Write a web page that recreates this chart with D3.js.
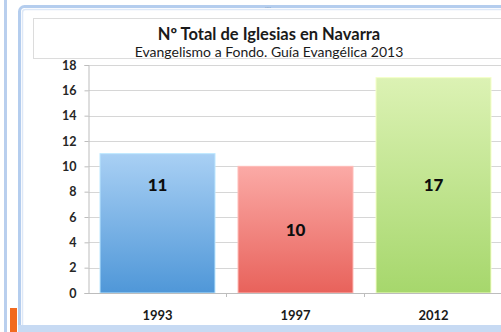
<!DOCTYPE html>
<html>
<head>
<meta charset="utf-8">
<script src="https://cdn.jsdelivr.net/npm/d3@7"></script>
<style>
  html, body { margin: 0; padding: 0; background: #fff; }
  svg { display: block; }
  text { font-family: Lato, "Open Sans", sans-serif; }
</style>
</head>
<body>
<svg id="chart" width="501" height="332"></svg>
<script>
// Church counts per survey year
const years = ["1993", "1997", "2012"];
const churches = [11, 10, 17];
const yTicks = [0, 2, 4, 6, 8, 10, 12, 14, 16, 18];
const titleText = "Nº Total de Iglesias en Navarra";
const subtitleText = "Evangelismo a Fondo. Guía Evangélica 2013";

// Gradient stops for each bar (top, bottom)
const barColors = [
  ["#a9d0f4", "#4f97d8"],
  ["#fbaaa6", "#e8625b"],
  ["#dcf2b4", "#a6d76c"]
];
// Vertical anchor of each value label, in axis units
const labelAnchor = [8.5, 5, 8.5];

const svg = d3.select("#chart");
const defs = svg.append("defs");

// Window strip on the left and the chart frame
svg.append("rect").attr("x", 4).attr("y", 0).attr("width", 3).attr("height", 332).attr("fill", "#b9cfee");
svg.append("rect").attr("x", 10).attr("y", 308).attr("width", 7).attr("height", 24).attr("fill", "#f26a1f");

svg.append("rect")
  .attr("x", 19.5).attr("y", 6.5).attr("width", 500).attr("height", 340)
  .attr("rx", 5).attr("fill", "#fff")
  .attr("stroke", "#b4cdee").attr("stroke-width", 3);
svg.append("rect")
  .attr("x", 22.5).attr("y", 9.5).attr("width", 500).attr("height", 340)
  .attr("rx", 3).attr("fill", "#fff")
  .attr("stroke", "#dde8f7").attr("stroke-width", 1.5);
svg.append("rect").attr("x", 18).attr("y", 325).attr("width", 483).attr("height", 7).attr("fill", "#c7daf3");
// frame grip marks
svg.append("text").attr("x", 268).attr("y", 9).attr("text-anchor", "middle")
  .attr("font-size", 6).attr("fill", "#8aa6cc").text("····");

// Title box
svg.append("rect")
  .attr("x", 33.5).attr("y", 18.5).attr("width", 480).attr("height", 40)
  .attr("fill", "#fff").attr("stroke", "#dcdcdc");
svg.append("text").attr("x", 269).attr("y", 40).attr("text-anchor", "middle")
  .attr("font-size", 16.5).attr("font-weight", 700).attr("fill", "#1a1a1a").text(titleText);
svg.append("text").attr("x", 269).attr("y", 57).attr("text-anchor", "middle")
  .attr("font-size", 14).attr("fill", "#1a1a1a").text(subtitleText);

// Plot scales
const plotLeft = 88.5, plotRight = 502.5, plotTop = 65, plotBottom = 293;
const x = d3.scaleBand().domain(years).range([plotLeft, plotRight]).paddingInner(23 / 138).paddingOuter(11.5 / 138);
const y = d3.scaleLinear().domain([0, 18]).range([plotBottom, plotTop]);

// Gridlines
svg.append("g").selectAll("line").data(yTicks.filter(d => d > 0)).join("line")
  .attr("x1", plotLeft).attr("x2", plotRight)
  .attr("y1", d => Math.round(y(d)) + 0.5).attr("y2", d => Math.round(y(d)) + 0.5)
  .attr("stroke", "#d6d6d6").attr("stroke-width", 1);

// Y axis
const yAxis = svg.append("g").attr("transform", `translate(${plotLeft},0)`)
  .call(d3.axisLeft(y).tickValues(yTicks).tickSize(4).tickPadding(8));
yAxis.select(".domain").attr("stroke", "#bdbdbd");
yAxis.selectAll(".tick line").attr("stroke", "#bdbdbd");
yAxis.selectAll(".tick text").attr("font-size", 12.5).attr("font-weight", 700)
  .attr("fill", "#262626").attr("font-family", "Lato, sans-serif");

// Gradients and bars
barColors.forEach((c, i) => {
  const g = defs.append("linearGradient").attr("id", "grad" + i)
    .attr("x1", 0).attr("y1", 0).attr("x2", 0).attr("y2", 1);
  g.append("stop").attr("offset", "0%").attr("stop-color", c[0]);
  g.append("stop").attr("offset", "100%").attr("stop-color", c[1]);
});

svg.append("g").selectAll("rect").data(churches).join("rect")
  .attr("x", (d, i) => x(years[i]))
  .attr("y", d => y(d))
  .attr("width", x.bandwidth())
  .attr("height", d => plotBottom - y(d))
  .attr("fill", (d, i) => `url(#grad${i})`)
  .attr("stroke", (d, i) => d3.color(barColors[i][0]).brighter(0.3))
  .attr("stroke-width", 1);

// X axis
const xAxis = svg.append("g").attr("transform", `translate(0,${plotBottom})`)
  .call(d3.axisBottom(x).tickSize(0).tickPadding(18));
xAxis.select(".domain").attr("stroke", "#bdbdbd");
xAxis.selectAll(".tick text").attr("font-size", 13).attr("font-weight", 700)
  .attr("fill", "#1a1a1a").attr("font-family", "Lato, sans-serif");
// category separator ticks
svg.append("g").selectAll("line").data(years.slice(1)).join("line")
  .attr("x1", d => x(d) - x.step() * x.paddingInner() / 2)
  .attr("x2", d => x(d) - x.step() * x.paddingInner() / 2)
  .attr("y1", plotBottom).attr("y2", plotBottom + 4)
  .attr("stroke", "#bdbdbd");

// Value labels
svg.append("g").selectAll("text").data(churches).join("text")
  .attr("x", (d, i) => x(years[i]) + x.bandwidth() / 2)
  .attr("y", (d, i) => y(labelAnchor[i]))
  .attr("dy", "0.35em")
  .attr("text-anchor", "middle")
  .attr("font-size", 17).attr("font-weight", 900).attr("fill", "#0d0d0d")
  .text(d => d);
</script>
</body>
</html>
